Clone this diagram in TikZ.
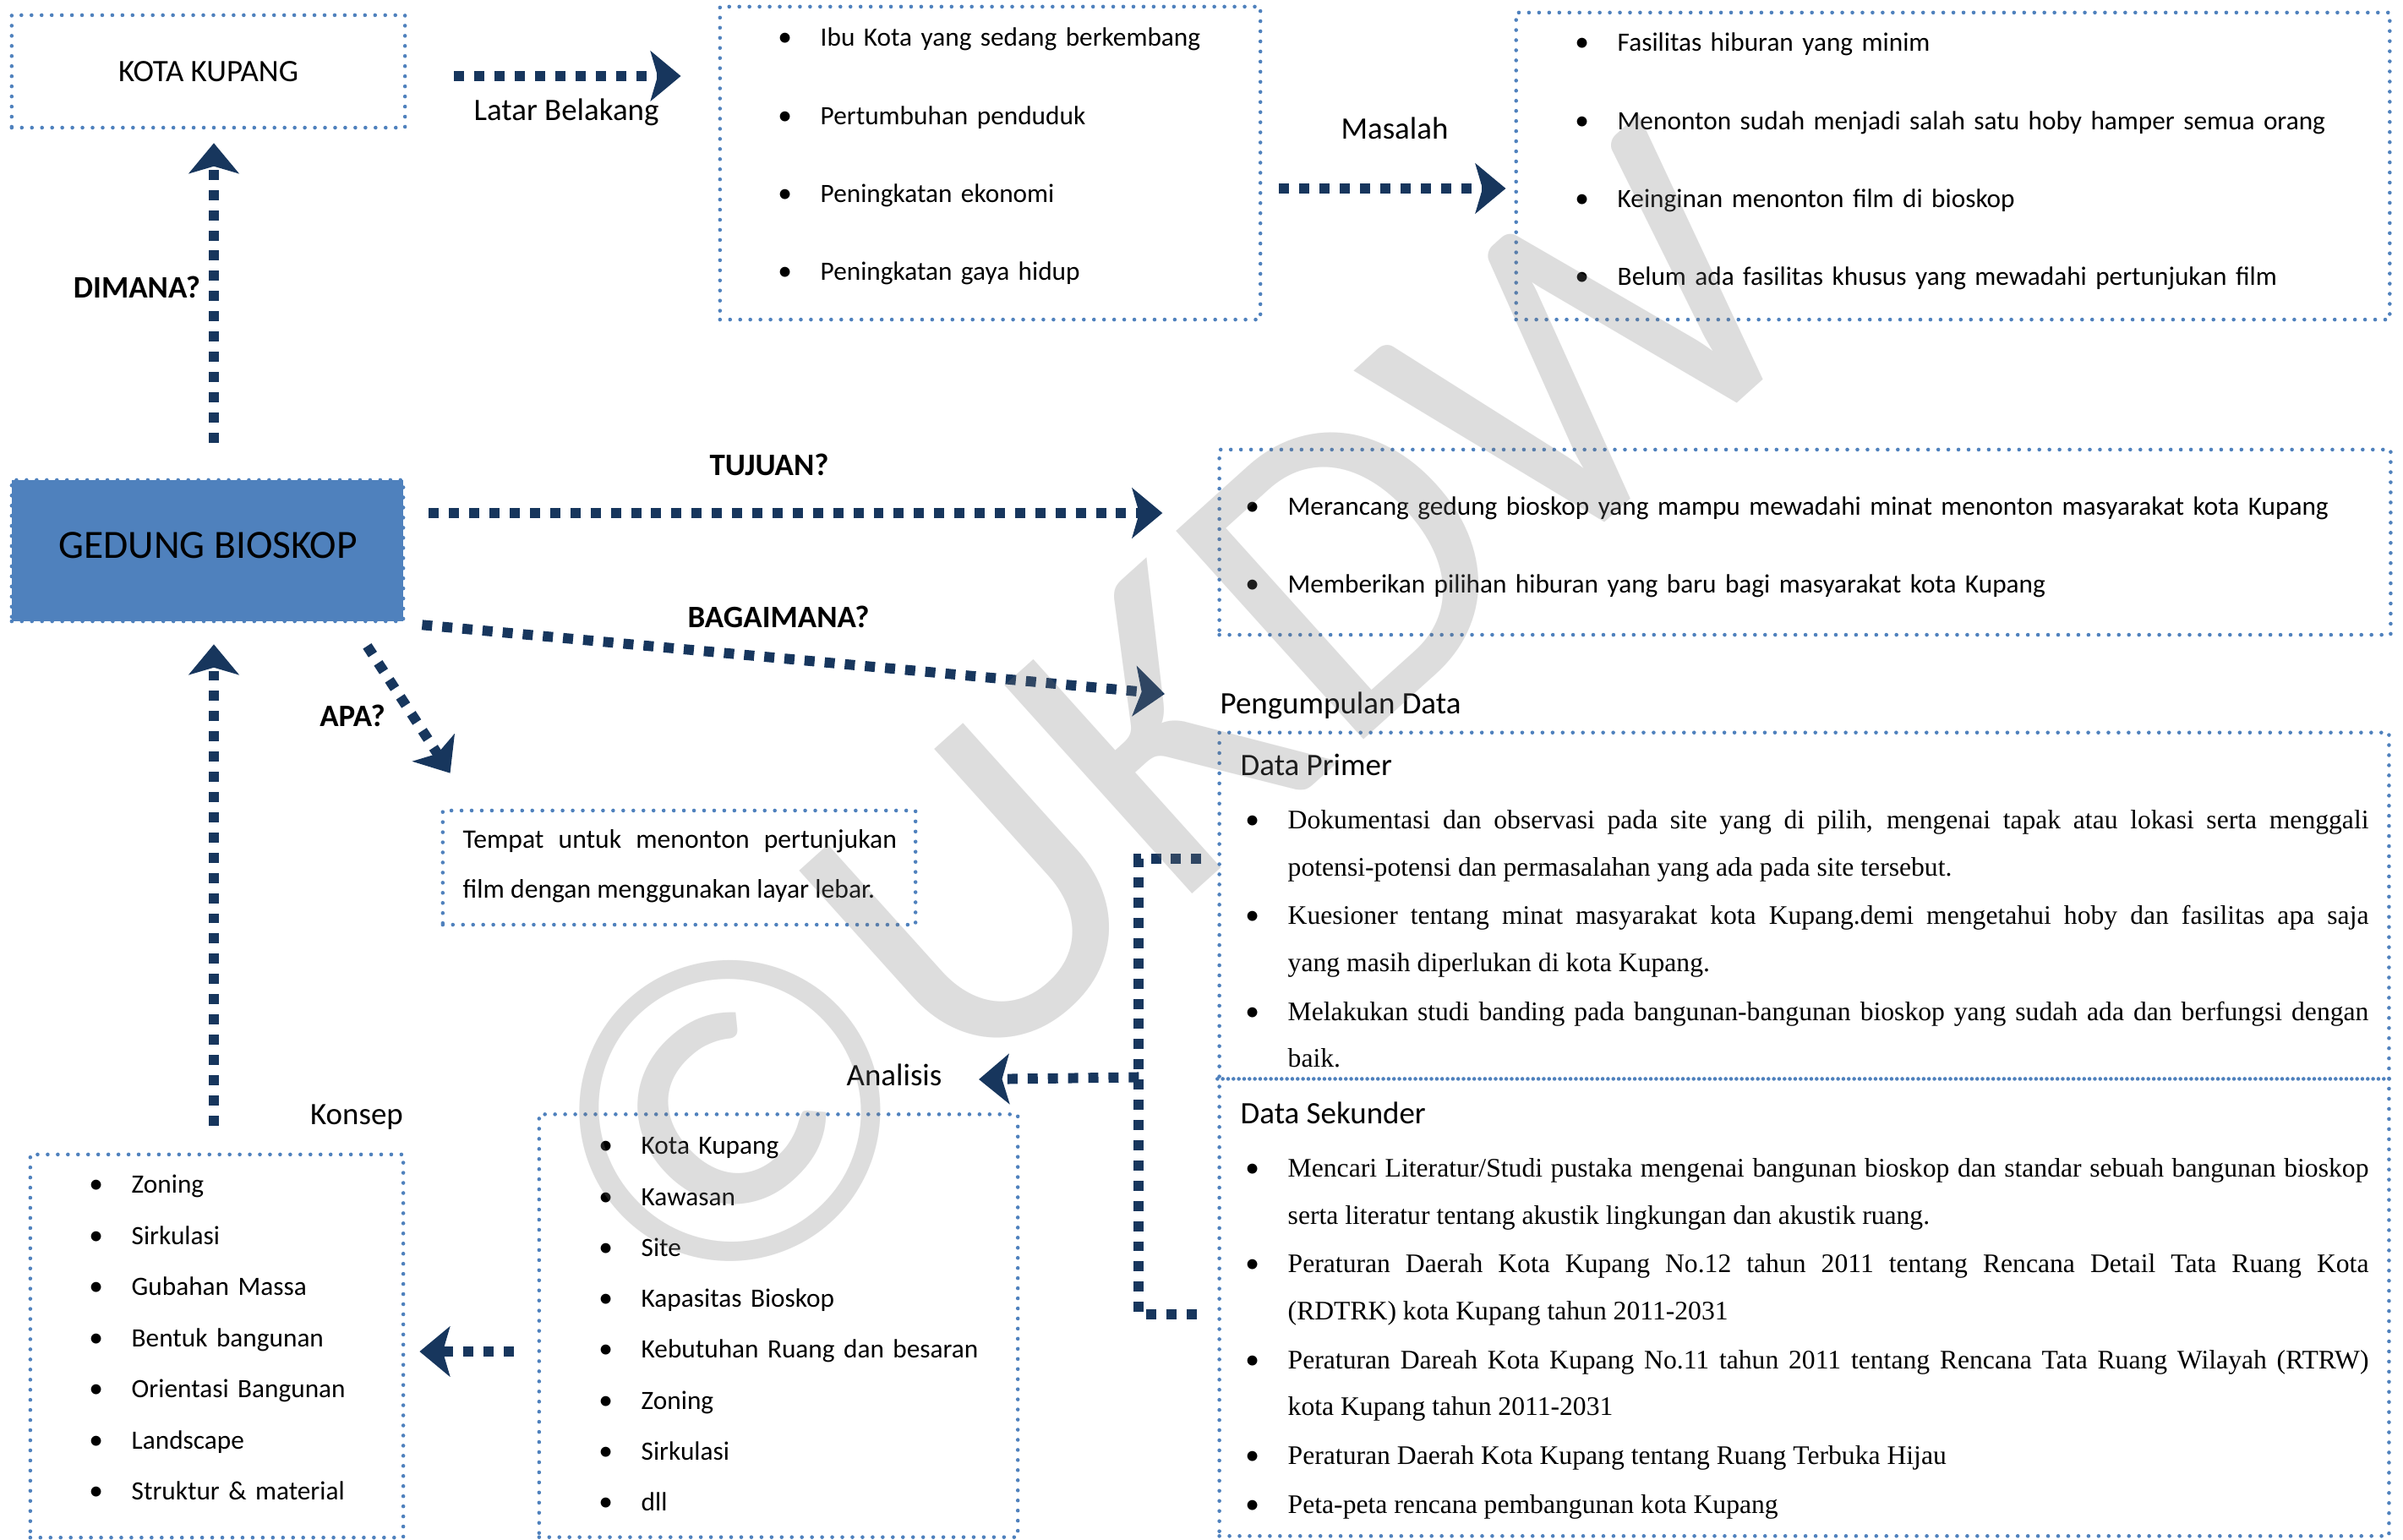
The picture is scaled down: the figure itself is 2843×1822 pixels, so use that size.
\documentclass[tikz,border=0pt]{standalone}
\usepackage{fontspec}
\setmainfont{Carlito}
\newfontfamily\tnr{Liberation Serif}
\usetikzlibrary{arrows.meta,calc,positioning}
\definecolor{boxblue}{HTML}{4F81BD}
\definecolor{arrnavy}{HTML}{17365D}
\definecolor{wmgray}{RGB}{119,119,119}
\newcommand{\fitm}{\noindent\rule{0pt}{8pt}\llap{\makebox[0pt][c]{\normalfont\fontsize{9.5}{9.5}\selectfont\textbullet}\hspace{11.95pt}}}
\newcommand{\itm}{\par\fitm}
\tikzset{
  dotbox/.style={draw=boxblue, line width=1.3pt, dash pattern=on 0pt off 3.4pt, line cap=round, inner sep=0pt},
  sepline/.style={draw=boxblue, line width=1.3pt, dash pattern=on 0pt off 1.8pt, line cap=round},
  conn/.style={draw=arrnavy, line width=3.4pt, dash pattern=on 3.4pt off 3.4pt, -{Stealth[length=10.2pt,width=16.8pt,inset=2.4pt]}},
  connline/.style={conn, -},
  lbl/.style={font=\fontsize{10.5}{12.6}\selectfont, inner sep=0pt},
  qlbl/.style={font=\fontsize{10.5}{12.6}\selectfont\bfseries, inner sep=0pt},
  lst/.style 2 args={anchor=north west, inner sep=0pt, text width=#1, align=left, font=\fontsize{8.9}{#2}\selectfont},
  para/.style 2 args={anchor=north west, inner sep=0pt, text width=#1, align=justify, font=\tnr\fontsize{9}{#2}\selectfont,
    execute at begin node={\setlength{\parskip}{0.6pt}\hyphenpenalty=10000\exhyphenpenalty=10000}},
  wm/.style={rotate=42, text=wmgray, text opacity=0.25, font=\fontsize{147}{150}\selectfont, inner sep=0pt}
}
\begin{document}
\begin{tikzpicture}[x=0.01cm,y=-0.01cm]
\useasboundingbox (0,0) rectangle (2843,1822);
% kotak
\node[dotbox, minimum width=4.65cm, minimum height=1.33cm, font=\fontsize{10.5}{12.6}\selectfont] (kota) at (246.5,84.5) {KOTA KUPANG};
\node[dotbox, minimum width=6.39cm, minimum height=3.70cm] (latar) at (1171.5,193) {};
\node[dotbox, minimum width=10.33cm, minimum height=3.63cm] (masalah) at (2310.5,196.5) {};
\node[dotbox, fill=boxblue, minimum width=4.63cm, minimum height=1.67cm] (ged) at (245.5,651.5) {};
\node[font=\fontsize{13.5}{16}\selectfont, inner sep=0pt] (ged-txt) at (246,645) {GEDUNG BIOSKOP};
\node[dotbox, minimum width=13.85cm, minimum height=2.19cm] (tujuan) at (2135.5,641.5) {};
\node[dotbox, minimum width=5.59cm, minimum height=1.35cm] (tempat) at (803.5,1026.5) {};
\node[dotbox, minimum width=13.83cm, minimum height=9.50cm] (data) at (2134.5,1342) {};
\node[dotbox, minimum width=4.41cm, minimum height=4.53cm] (konsep) at (256.5,1592.5) {};
\node[dotbox, minimum width=5.66cm, minimum height=5.00cm] (anbox) at (921,1568.5) {};
\draw[sepline] ($(data.north west)+(0,412)$) -- ($(data.north east)+(0,412)$);

% isi kotak
\node[lst={5.2cm}{26.26pt}] (latar-isi) at (970,25.9) {\fitm Ibu Kota yang sedang berkembang \itm Pertumbuhan penduduk \itm Peningkatan ekonomi \itm Peningkatan gaya hidup};
\node[lst={8.9cm}{26.26pt}] (masalah-isi) at (1913,31.9) {\fitm Fasilitas hiburan yang minim \itm Menonton sudah menjadi salah satu hoby hamper semua orang \itm Keinginan menonton film di bioskop \itm Belum ada fasilitas khusus yang mewadahi pertunjukan film};
\node[lst={12.9cm}{26.2pt}] (tujuan-isi) at (1523,580.9) {\fitm Merancang gedung bioskop yang mampu mewadahi minat menonton masyarakat kota Kupang \itm Memberikan pilihan hiburan yang baru bagi masyarakat kota Kupang};
\node[anchor=north west, inner sep=0pt, text width=5.13cm, align=justify, font=\fontsize{9}{16.8pt}\selectfont] (tempat-isi) at (547,974.9) {\rule{0pt}{8pt}Tempat untuk menonton pertunjukan\linebreak film dengan menggunakan layar lebar.};
\node[para={12.78cm}{15.8pt}] (primer-isi) at (1523,951.9) {\fitm Dokumentasi dan observasi pada site yang di pilih, mengenai tapak atau lokasi serta menggali\linebreak potensi-potensi dan permasalahan yang ada pada site tersebut. \itm Kuesioner tentang minat masyarakat kota Kupang.demi mengetahui hoby dan fasilitas apa saja\linebreak yang masih diperlukan di kota Kupang. \itm Melakukan studi banding pada bangunan-bangunan bioskop yang sudah ada dan berfungsi dengan\linebreak baik.};
\node[para={12.78cm}{15.8pt}] (sekunder-isi) at (1523,1363.9) {\fitm Mencari Literatur/Studi pustaka mengenai bangunan bioskop dan standar sebuah bangunan bioskop\linebreak serta literatur tentang akustik lingkungan dan akustik ruang. \itm Peraturan Daerah Kota Kupang No.12 tahun 2011 tentang Rencana Detail Tata Ruang Kota\linebreak (RDTRK) kota Kupang tahun 2011-2031 \itm Peraturan Dareah Kota Kupang No.11 tahun 2011 tentang Rencana Tata Ruang Wilayah (RTRW)\linebreak kota Kupang tahun 2011-2031 \itm Peraturan Daerah Kota Kupang tentang Ruang Terbuka Hijau \itm Peta-peta rencana pembangunan kota Kupang};
\node[lst={4cm}{17.2pt}] (konsep-isi) at (155,1382.9) {\fitm Zoning \itm Sirkulasi \itm Gubahan Massa \itm Bentuk bangunan \itm Orientasi Bangunan \itm Landscape \itm Struktur \& material};
\node[lst={4.4cm}{17.15pt}] (analisis-isi) at (758,1336.9) {\fitm Kota Kupang \itm Kawasan \itm Site \itm Kapasitas Bioskop \itm Kebutuhan Ruang dan besaran \itm Zoning \itm Sirkulasi \itm dll};

% label
\node[lbl] (latar-lbl) at (670,133) {Latar Belakang};
\node[lbl] (masalah-lbl) at (1650,152) {Masalah};
\node[qlbl] (dimana) at (162,340) {DIMANA?};
\node[qlbl] (tuj-lbl) at (910,550) {TUJUAN?};
\node[qlbl] (bag-lbl) at (921,730) {BAGAIMANA?};
\node[qlbl] (apa-lbl) at (417,847) {APA?};
\node[lbl, anchor=west] (pkd) at (1443,835) {Pengumpulan Data};
\node[lbl, anchor=west] (primer) at (1467,905) {Data Primer};
\node[lbl, anchor=west] (sekunder) at (1467,1317) {Data Sekunder};
\node[lbl] (anl) at (1058,1272) {Analisis};
\node[lbl] (ksp) at (422,1322) {Konsep};

% panah
\draw[conn] ($(kota.east)+(56,5.5)$) -- ($(latar.west)+(-44,-103)$);
\draw[conn] ($(latar.east)+(20,30)$) -- ($(masalah.west)+(-10,26.5)$);
\draw[conn] ($(ged.north)+(7.5,-42)$) -- ($(kota.south)+(6.5,16)$);
\draw[conn] ($(ged.east)+(28,-44.5)$) -- ($(tujuan.west)+(-65,-34.5)$);
\draw[conn] ($(ged.south east)+(20,2)$) -- ($(pkd.west)+(-65,-14)$);
\draw[conn] ($(ged.south east)+(-45,27)$) -- ($(tempat.north west)+(11,-42)$);
\draw[conn] ($(konsep.north)+(-3.5,-32)$) -- ($(ged.south)+(7.5,25)$);
\draw[conn] ($(anbox.west)+(-28,30.5)$) -- ($(konsep.east)+(17,6.5)$);
\coordinate (dp) at ($(data.north west)+(-19,152)$);
\coordinate (ds) at ($(data.north west)+(-19,691)$);
\coordinate (dj) at ($(data.north west)+(-93,410)$);
\draw[connline] (dp) -| (dj) |- (ds);
\draw[conn] (dj) -- ($(anl.east)+(43,5)$);

% watermark
\node[wm] (wm) at (1375,855) {©UKDW};
\end{tikzpicture}
\end{document}
